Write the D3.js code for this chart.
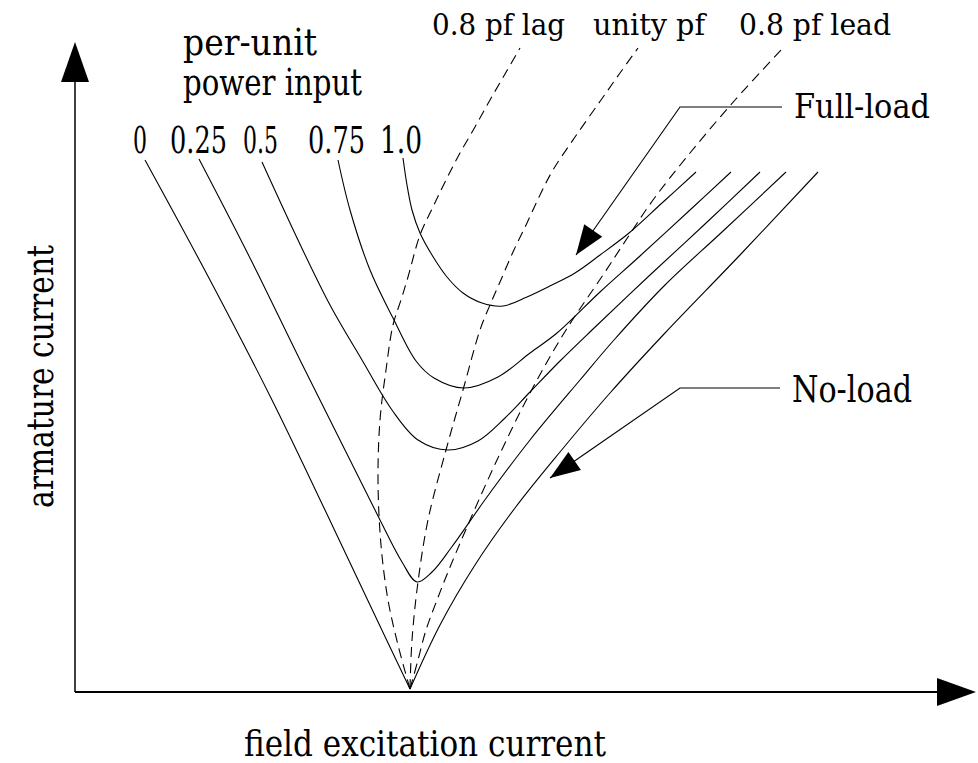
<!DOCTYPE html>
<html><head><meta charset="utf-8">
<script src="https://cdn.jsdelivr.net/npm/d3@7"></script>
<style>html,body{margin:0;padding:0;background:#fff;} svg{display:block}</style>
</head><body>
<svg id="chart" width="978" height="763"></svg>
<script>
// ---------------- data (arbitrary units) ----------------
// x = field excitation current, y = armature current
const powerLevels = ["0", "0.25", "0.5", "0.75", "1.0"];

const vCurveNoLoad = [[70,532],[135,412],[197,292],[250,182],[295,87],[335,3],[365,67],[400,127],[440,184],[485,240],[535,299],[590,359],[665,437],[743,520]];
const vCurve025 = [[124,533],[175,434],[225,332],[270,242],[305,172],[327,130],[342,110],[357,120],[376,144],[412,195],[455,252],[505,312],[539,352],[590,407],[647,460],[711,520]];
const vCurve050 = [[187,530],[223,452],[255,387],[287,332],[317,282],[343,252],[373,242],[403,251],[430,274],[455,300],[485,331],[517,362],[575,417],[630,468],[685,520]];
const vCurve075 = [[263,532],[275,482],[295,422],[318,374],[341,331],[359,314],[389,304],[423,315],[455,339],[482,359],[525,400],[565,436],[615,482],[656,520]];
const vCurve100 = [[328,534],[332,507],[337,482],[345,459],[357,437],[372,415],[388,399],[407,389],[428,386],[452,395],[477,407],[500,419],[525,437],[554,459],[587,489],[621,520]];

const pfNames = ["0.8 pf lag", "unity pf", "0.8 pf lead"];
const pfLag = [[335,3],[323,47],[313,92],[306,147],[303,212],[305,272],[311,322],[318,367],[326,392],[333,415],[345,457],[358,485],[371,512],[385,539],[400,565],[415,592],[430,618],[445,644]];
const pfUnity = [[335,3],[337,52],[343,110],[353,172],[371,242],[388,302],[405,362],[415,387],[425,410],[438,440],[452,469],[465,497],[478,522],[500,555],[526,592],[545,619],[563,644]];
const pfLead = [[335,3],[343,32],[351,62],[362,92],[373,120],[392,165],[422,232],[455,299],[491,362],[528,417],[553,455],[578,492],[615,539],[660,592],[708,644]];

const loadNames = ["Full-load", "No-load"];
// leader lines: [elbow, end of horizontal], arrow tip
const fullLoadLeader = [[605,585],[707,585]];
const fullLoadTip = [501,437];
const noLoadLeader = [[605,304],[705,304]];
const noLoadTip = [475,214];

const xTitle = "field excitation current";
const yTitle = "armature current";
const powerTitle = ["per-unit", "power input"];

// ---------------- drawing ----------------
const svg = d3.select("#chart");
const xScale = d3.scaleLinear().domain([0, 900]).range([75, 975]);
const yScale = d3.scaleLinear().domain([0, 650]).range([692, 42]);

const line = d3.line()
  .x(d => xScale(d[0])).y(d => yScale(d[1]))
  .curve(d3.curveCatmullRom.alpha(0.5));

const FONT = "'DejaVu Serif Condensed','DejaVu Serif','Liberation Serif',serif";

// axes
const axisG = svg.append("g");
axisG.append("line")
  .attr("x1", xScale(0)).attr("y1", yScale(0))
  .attr("x2", xScale(0)).attr("y2", yScale(650) + 38)
  .attr("stroke", "#000").attr("stroke-width", 1.5);
axisG.append("line")
  .attr("x1", xScale(0)).attr("y1", yScale(0))
  .attr("x2", xScale(900) - 36).attr("y2", yScale(0))
  .attr("stroke", "#000").attr("stroke-width", 2);
const yt = [xScale(0), yScale(650)];
axisG.append("path")
  .attr("d", `M${yt[0]},${yt[1]} L${yt[0]-14},${yt[1]+40} L${yt[0]+14},${yt[1]+40} Z`)
  .attr("fill", "#000");
const xt = [xScale(900) + 1, yScale(0)];
axisG.append("path")
  .attr("d", `M${xt[0]},${xt[1]} L${xt[0]-39},${xt[1]-14} L${xt[0]-39},${xt[1]+14} Z`)
  .attr("fill", "#000");

// V curves
const vCurves = [vCurveNoLoad, vCurve025, vCurve050, vCurve075, vCurve100];
const curveG = svg.append("g").attr("fill", "none").attr("stroke", "#000").attr("stroke-width", 1.1);
vCurves.forEach(pts => {
  let iMin = 0;
  pts.forEach((p, i) => { if (p[1] < pts[iMin][1]) iMin = i; });
  if (pts[iMin][1] < 10) {
    curveG.append("path").attr("d", line(pts.slice(0, iMin + 1)));
    curveG.append("path").attr("d", line(pts.slice(iMin)));
  } else {
    curveG.append("path").attr("d", line(pts));
  }
});

// compounding (power-factor) curves
const pfCurves = [pfLag, pfUnity, pfLead];
const dashG = svg.append("g").attr("fill", "none").attr("stroke", "#000")
  .attr("stroke-width", 1.1).attr("stroke-dasharray", "10,6");
pfCurves.forEach(pts => dashG.append("path").attr("d", line(pts)));

// leader lines with arrowheads
function leader(pts, tip) {
  const g = svg.append("g");
  const e = [xScale(pts[0][0]), yScale(pts[0][1])];
  const h = [xScale(pts[1][0]), yScale(pts[1][1])];
  const t = [xScale(tip[0]), yScale(tip[1])];
  g.append("polyline")
    .attr("points", [h, e, t].map(p => p.join(",")).join(" "))
    .attr("fill", "none").attr("stroke", "#000").attr("stroke-width", 1.1);
  const dx = t[0] - e[0], dy = t[1] - e[1];
  const L = Math.hypot(dx, dy), ux = dx / L, uy = dy / L;
  const len = 30, hw = 11;
  const bx = t[0] - ux * len, by = t[1] - uy * len;
  g.append("path")
    .attr("d", `M${t[0]},${t[1]} L${bx - uy*hw},${by + ux*hw} L${bx + uy*hw},${by - ux*hw} Z`)
    .attr("fill", "#000");
}
leader(fullLoadLeader, fullLoadTip);
leader(noLoadLeader, noLoadTip);

// text helper
function label(txt, x, y, size, width, opts = {}) {
  const t = svg.append("text")
    .attr("x", x).attr("y", y)
    .attr("font-family", FONT).attr("font-size", size)
    .attr("fill", "#000")
    .attr("textLength", width).attr("lengthAdjust", "spacingAndGlyphs")
    .text(txt);
  if (opts.transform) t.attr("transform", opts.transform);
  return t;
}

// power-level labels
const powerLabelPos = [[133,14],[170,57],[243,35],[308,57],[380,42]];
powerLevels.forEach((s, i) => label(s, powerLabelPos[i][0], 153, 37, powerLabelPos[i][1]));
label(powerTitle[0], 183, 55, 37, 134);
label(powerTitle[1], 183, 95, 37, 179);

// power-factor labels
label(pfNames[0], 432, 35, 29, 133);
label(pfNames[1], 593, 35, 29, 112);
label(pfNames[2], 739, 35, 29, 152);

// load labels
label(loadNames[0], 794, 118, 33, 136);
label(loadNames[1], 792, 402, 37, 120);

// axis titles
label(xTitle, 244, 756, 35, 362);
label(yTitle, 0, 0, 38, 263, { transform: "translate(53,508) rotate(-90)" });
</script>
</body></html>
